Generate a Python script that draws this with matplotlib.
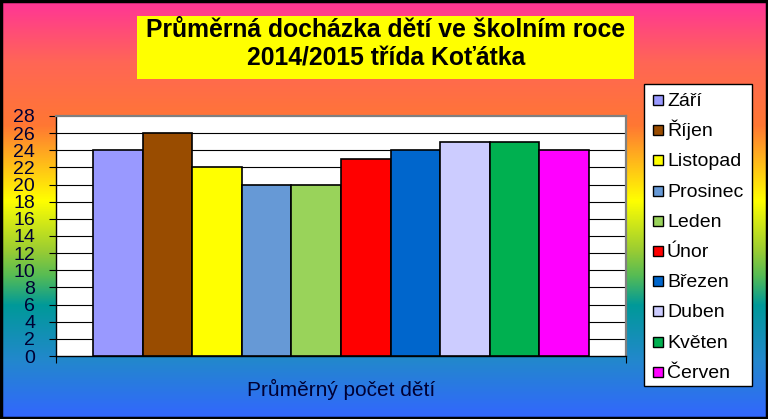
import numpy as np
import matplotlib
matplotlib.use("Agg")
import matplotlib.pyplot as plt
from matplotlib.colors import LinearSegmentedColormap
from matplotlib.patches import Rectangle

plt.rcParams['font.family'] = ['Liberation Sans', 'DejaVu Sans']

months = ["Září", "Říjen", "Listopad", "Prosinec", "Leden",
          "Únor", "Březen", "Duben", "Květen", "Červen"]
attendance = [24, 26, 22, 20, 20, 23, 24, 25, 25, 24]
bar_colors = ["#9999FF", "#994C00", "#FFFF00", "#6699D6", "#99D35A",
              "#FF0000", "#0066CC", "#CCCCFF", "#00B050", "#FF00FF"]
y_ticks = list(range(0, 29, 2))
title_lines = ["Průměrná docházka dětí ve školním roce", "2014/2015 třída Koťátka"]
x_label = "Průměrný počet dětí"

W, H = 768, 419
fig = plt.figure(figsize=(W / 100, H / 100), dpi=100)

# background gradient
bg = fig.add_axes([0, 0, 1, 1])
cmap = LinearSegmentedColormap.from_list("bg", [
    (0.0, "#FF3399"), (0.15, "#FF6655"), (0.3, "#FF7733"),
    (0.48, "#FFFF00"), (0.6, "#99CC33"), (0.66, "#55BB55"),
    (0.73, "#009999"), (0.86, "#2288CC"), (1.0, "#3366FF")])
bg.imshow(np.linspace(0, 1, 256).reshape(-1, 1), aspect='auto', cmap=cmap,
          extent=[0, 1, 0, 1])
bg.set_xlim(0, 1)
bg.set_ylim(0, 1)
bg.axis('off')
bg.add_patch(Rectangle((0.001, 0.002), 0.998, 0.996, fill=False,
                       edgecolor='black', linewidth=2.5, transform=fig.transFigure))


def fx(px):
    return px / W


def fy(py):
    return 1 - py / H


# main chart
ax = fig.add_axes([fx(56), fy(356), fx(626) - fx(56), fy(116) - fy(356)])
ax.set_facecolor('white')
x = np.arange(len(months))
ax.bar(x, attendance, width=1.0, color=bar_colors, edgecolor='black',
       linewidth=1.2, zorder=3)
ax.set_xlim(-0.5 - 0.75, len(months) - 0.5 + 0.75)
ax.set_ylim(0, 28)
ax.set_yticks(y_ticks)
ax.set_yticklabels([str(t) for t in y_ticks], fontsize=14, color='#000033')
for t in y_ticks[1:-1]:
    ax.axhline(t, color='black', linewidth=0.8, zorder=1)
ax.set_xticks([ax.get_xlim()[0], ax.get_xlim()[1]])
ax.set_xticklabels([])
ax.tick_params(axis='y', direction='out', length=5, width=0.8, pad=10)
ax.tick_params(axis='x', direction='out', length=5, width=0.8)
for s in ['top', 'right']:
    ax.spines[s].set_color('#808080')
    ax.spines[s].set_linewidth(1.6)
for s in ['left', 'bottom']:
    ax.spines[s].set_color('black')
    ax.spines[s].set_linewidth(1.0)
ax.set_xlabel(x_label, fontsize=15, color='#000033', labelpad=8)

# title box
fig.patches.append(Rectangle((fx(137), fy(79)), fx(634) - fx(137), fy(16) - fy(79),
                             facecolor='#FFFF00', edgecolor='none',
                             transform=fig.transFigure, zorder=2))
fig.text(fx(386), fy(37), title_lines[0], ha='center', va='baseline',
         fontsize=17.8, fontweight='bold', color='black', zorder=3)
fig.text(fx(386), fy(65), title_lines[1], ha='center', va='baseline',
         fontsize=17.8, fontweight='bold', color='black', zorder=3)

# legend
fig.patches.append(Rectangle((fx(644), fy(386)), fx(752) - fx(644), fy(84) - fy(386),
                             facecolor='white', edgecolor='black', linewidth=1.0,
                             transform=fig.transFigure, zorder=2))
for i, (m, c) in enumerate(zip(months, bar_colors)):
    yc = 100 + i * 30.2
    fig.patches.append(Rectangle((fx(653), fy(yc + 5)), fx(663) - fx(653), fy(yc - 5) - fy(yc + 5),
                                 facecolor=c, edgecolor='black', linewidth=1.0,
                                 transform=fig.transFigure, zorder=3))
    fig.text(fx(667), fy(yc + 6), m, ha='left', va='baseline', fontsize=14,
             color='black', zorder=3)

fig.savefig("out.png", dpi=100)
